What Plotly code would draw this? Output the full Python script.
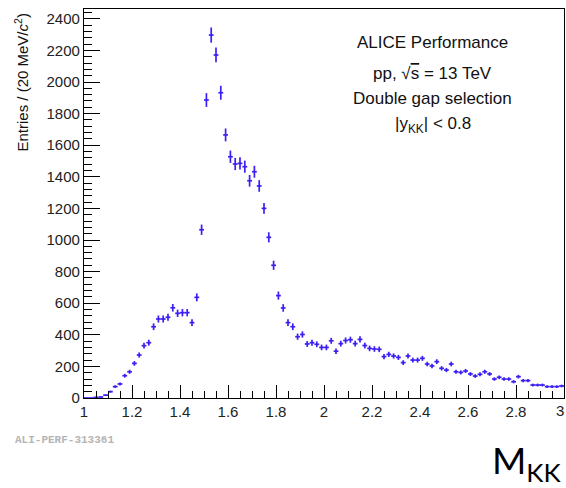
import numpy as np
import plotly.graph_objects as go

# Bin centres (20 MeV bins from 1.0 to 3.0 GeV/c^2)
mass = [round(1.01 + 0.02 * i, 2) for i in range(100)]
counts = [
    0, 0, 4, 6, 18, 40, 72, 89, 141, 166,
    219, 272, 331, 350, 451, 500, 500, 511, 571, 536,
    540, 540, 477, 637, 1065, 1886, 2297, 2171, 1932, 1665,
    1527, 1481, 1485, 1464, 1375, 1432, 1342, 1200, 1017, 840,
    648, 570, 477, 451, 388, 402, 342, 350, 340, 320,
    320, 362, 296, 344, 364, 369, 344, 371, 332, 314,
    310, 308, 262, 276, 266, 257, 224, 266, 240, 240,
    251, 215, 203, 230, 188, 177, 215, 166, 162, 171,
    152, 139, 150, 166, 152, 120, 131, 120, 120, 103,
    135, 110, 110, 82, 82, 82, 72, 72, 72, 76,
]
bin_half_width = [0.01] * len(mass)
stat_err = list(np.sqrt(np.array(counts, dtype=float)))

x_ticks = [1, 1.2, 1.4, 1.6, 1.8, 2, 2.2, 2.4, 2.6, 2.8]
x_last_tick = 3
y_ticks = [0, 200, 400, 600, 800, 1000, 1200, 1400, 1600, 1800, 2000, 2200, 2400]

blue = "#3a1ff5"
fig = go.Figure()
fig.add_trace(go.Scatter(
    x=mass, y=counts, mode="markers",
    marker=dict(size=0.1, color=blue, opacity=0),
    error_x=dict(type="data", array=bin_half_width, color=blue, thickness=1.7, width=0),
    error_y=dict(type="data", array=stat_err, color=blue, thickness=1.7, width=0),
    showlegend=False, hoverinfo="x+y",
))

tickfont = dict(family="Liberation Sans, Arial, sans-serif", size=15, color="#222")
fig.update_xaxes(
    range=[1, 3], tickvals=x_ticks, ticktext=[f"{v:g}" for v in x_ticks],
    ticks="inside", ticklen=13, tickwidth=1, tickcolor="black",
    minor=dict(dtick=0.05, tick0=1, ticks="inside", ticklen=7, tickcolor="black", tickwidth=1),
    showline=True, linecolor="black", linewidth=1.2, mirror=True,
    showgrid=False, zeroline=False, tickfont=tickfont,
)
fig.update_yaxes(
    range=[0, 2462], tickvals=y_ticks, ticktext=[str(v) for v in y_ticks],
    ticks="inside", ticklen=16, tickwidth=1, tickcolor="black",
    minor=dict(dtick=40, tick0=0, ticks="inside", ticklen=8, tickcolor="black", tickwidth=1),
    showline=True, linecolor="black", linewidth=1.2, mirror=True,
    showgrid=False, zeroline=False, tickfont=tickfont,
)

# last x tick label (sits at the right edge of the frame)
fig.add_annotation(text=f"{x_last_tick:g}", x=x_last_tick, y=0, xref="x", yref="y",
                   showarrow=False, xanchor="right", yanchor="top", yshift=-2, xshift=2,
                   font=tickfont)

txtfont = dict(family="Liberation Sans, Arial, sans-serif", size=17, color="#111")
ann = [
    ("ALICE Performance", 0.915),
    ("pp, √<span style='text-decoration:overline'>s</span> = 13 TeV", 0.835),
    ("Double gap selection", 0.769),
    ("|y<sub>KK</sub>| < 0.8", 0.702),
]
for t, yy in ann:
    fig.add_annotation(text=t, x=0.727, y=yy, xref="paper", yref="paper",
                       showarrow=False, font=txtfont, xanchor="center", yanchor="middle")

fig.add_annotation(text="Entries / (20 MeV/<i>c</i><sup>2</sup>)", textangle=-90,
                   x=-0.13, y=0.81, xref="paper", yref="paper", showarrow=False,
                   font=dict(family="Liberation Sans, Arial, sans-serif", size=15, color="#111"),
                   xanchor="center", yanchor="middle")

fig.add_annotation(text="<b>ALI-PERF-313361</b>", x=-0.148, y=-0.108, xref="paper", yref="paper",
                   showarrow=False, xanchor="left", yanchor="middle",
                   font=dict(family="Liberation Mono, monospace", size=11, color="#b5b5b5"))

fig.add_annotation(text="M<sub>KK</sub>", x=1.0, y=-0.165, xref="paper", yref="paper",
                   showarrow=False, xanchor="right", yanchor="middle",
                   font=dict(family="Lato, Liberation Sans, sans-serif", size=37, color="black"))

fig.update_layout(
    width=566, height=488,
    margin=dict(l=84, r=2, t=9, b=90),
    paper_bgcolor="white", plot_bgcolor="white",
)
fig.write_html("out.html")
